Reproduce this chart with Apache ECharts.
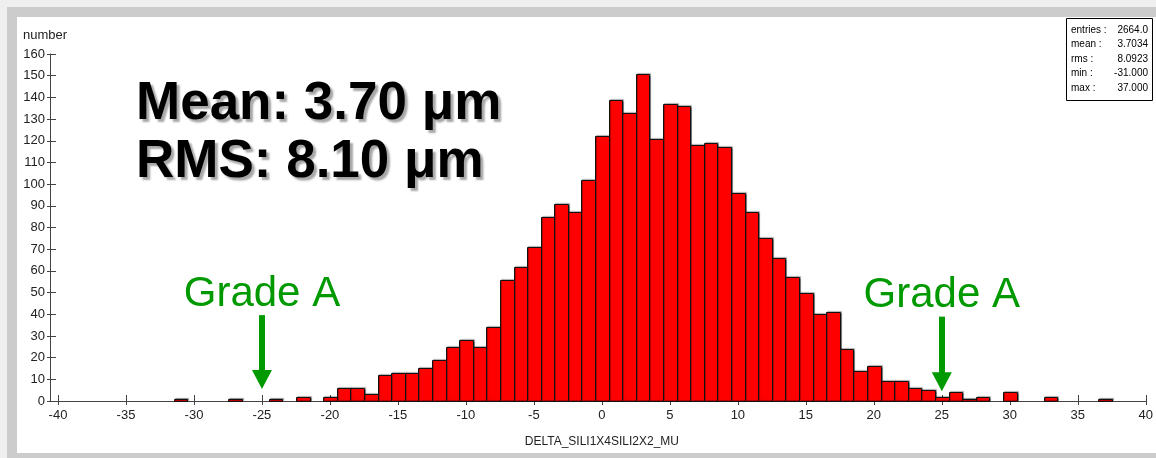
<!DOCTYPE html>
<html>
<head>
<meta charset="utf-8">
<script src="https://cdn.jsdelivr.net/npm/echarts@6/dist/echarts.min.js"></script>
<style>
  html, body { margin: 0; padding: 0; background: #efefef; }
  #outer { position: absolute; left: 7px; top: 7px; width: 1200px; height: 460px; background: #cccccc; }
  #panel { position: absolute; left: 17px; top: 17px; width: 1200px; height: 436px; background: #ffffff; }
  #chart { position: absolute; left: 0; top: 0; width: 1156px; height: 458px; }
</style>
</head>
<body>
<div id="outer"></div>
<div id="panel"></div>
<div id="chart"></div>
<script>
// Histogram bins (bin centres, width 1) and counts
const binCenters = [-31, -27, -24, -22, -20, -19, -18, -17, -16, -15, -14, -13, -12, -11, -10, -9, -8, -7, -6, -5, -4, -3, -2, -1,
  0, 1, 2, 3, 4, 5, 6, 7, 8, 9, 10, 11, 12, 13, 14, 15, 16, 17, 18, 19, 20, 21, 22, 23, 24, 25, 26, 27, 28, 30, 33, 37];
const counts = [1, 1, 1, 2, 2, 6, 6, 3, 12, 13, 13, 15, 19, 25, 28, 25, 34, 56, 62, 71, 85, 91, 87, 102,
  122, 139, 133, 151, 121, 137, 136, 118, 119, 117, 96, 87, 75, 66, 57, 50, 40, 41, 24, 14, 16, 9, 9, 6, 5, 2, 4, 1, 2, 4, 2, 1];

const xTicks = { min: -40, max: 40, interval: 5 };
const yTicks = { min: 0, max: 160, interval: 10 };

const statLabels = ['entries :', 'mean :', 'rms :', 'min :', 'max :'];
const statValues = ['2664.0', '3.7034', '8.0923', '-31.000', '37.000'];

const gradeArrows = [
  { x: -25, top: 39.6, end: 9.9 },
  { x: 25, top: 38.9, end: 8.9 }
];

const chart = echarts.init(document.getElementById('chart'), null, { renderer: 'canvas' });
const FONT = 'Liberation Sans, Arial, sans-serif';

const axisLineStyle = { color: '#444', width: 1 };

const statsGraphics = [];
statsGraphics.push({
  type: 'rect', left: 1066, top: 18, shape: { width: 86, height: 82 },
  style: { fill: '#fff', stroke: '#000', lineWidth: 1 }, z: 10
});
statLabels.forEach((l, i) => {
  const y = 30 + i * 14.5;
  statsGraphics.push({ type: 'text', x: 1071, y: y, z: 11,
    style: { text: l, fill: '#000', font: '10px ' + FONT, textAlign: 'left', textVerticalAlign: 'middle' } });
  statsGraphics.push({ type: 'text', x: 1148, y: y, z: 11,
    style: { text: statValues[i], fill: '#000', font: '10px ' + FONT, textAlign: 'right', textVerticalAlign: 'middle' } });
});

const bigTextStyle = {
  fill: '#000', font: 'bold 53px ' + FONT, textAlign: 'left', textVerticalAlign: 'middle',
  textShadowColor: 'rgba(0,0,0,0.35)', textShadowOffsetX: 3, textShadowOffsetY: 3, textShadowBlur: 2
};

const option = {
  animation: false,
  backgroundColor: 'transparent',
  textStyle: { fontFamily: FONT },
  grid: { left: 58, right: 7, top: 54, bottom: 57, containLabel: false },
  xAxis: [
    {
      type: 'value', min: xTicks.min, max: xTicks.max, interval: xTicks.interval, position: 'bottom',
      name: 'DELTA_SILI1X4SILI2X2_MU', nameLocation: 'middle', nameGap: 35,
      nameTextStyle: { color: '#222', fontSize: 12, fontFamily: FONT },
      axisLine: { show: true, onZero: false, lineStyle: axisLineStyle },
      axisTick: { show: true, inside: false, length: 4, lineStyle: axisLineStyle },
      axisLabel: { color: '#222', fontSize: 13, margin: 8, fontFamily: FONT },
      splitLine: { show: false }
    },
    {
      type: 'value', min: xTicks.min, max: xTicks.max, interval: xTicks.interval, position: 'bottom',
      axisLine: { show: false, onZero: false },
      axisTick: { show: true, inside: true, length: 6, lineStyle: axisLineStyle },
      axisLabel: { show: false },
      splitLine: { show: false }
    }
  ],
  yAxis: [
    {
      type: 'value', min: yTicks.min, max: yTicks.max, interval: yTicks.interval, position: 'left', offset: 8,
      name: 'number', nameLocation: 'end', nameGap: 12,
      nameTextStyle: { color: '#222', fontSize: 13, fontFamily: FONT, align: 'left', padding: [0, 0, 0, -27] },
      axisLine: { show: true, onZero: false, lineStyle: axisLineStyle },
      axisTick: { show: true, inside: false, length: 3, lineStyle: axisLineStyle },
      axisLabel: { color: '#222', fontSize: 13, margin: 5, fontFamily: FONT },
      splitLine: { show: false }
    },
    {
      type: 'value', min: yTicks.min, max: yTicks.max, interval: yTicks.interval, position: 'left', offset: 8,
      axisLine: { show: false, onZero: false },
      axisTick: { show: true, inside: true, length: 6, lineStyle: axisLineStyle },
      axisLabel: { show: false },
      splitLine: { show: false }
    }
  ],
  graphic: [
    { type: 'line', shape: { x1: 50, y1: 401.5, x2: 58, y2: 401.5 }, style: { stroke: '#444', lineWidth: 1 }, z: 5 },
    { type: 'text', x: 136, y: 104, z: 10, style: Object.assign({ text: 'Mean: 3.70 μm' }, bigTextStyle) },
    { type: 'text', x: 136, y: 162, z: 10, style: Object.assign({ text: 'RMS: 8.10 μm' }, bigTextStyle) }
  ].concat(statsGraphics),
  series: [
    {
      type: 'custom',
      xAxisIndex: 0, yAxisIndex: 0,
      data: binCenters.map((c, i) => [c, counts[i]]),
      encode: { x: 0, y: 1 },
      renderItem: function (params, api) {
        const x = api.value(0), y = api.value(1);
        const p0 = api.coord([x - 0.5, y]);
        const p1 = api.coord([x + 0.5, 0]);
        return {
          type: 'rect',
          shape: { x: Math.round(p0[0]) + 0.5, y: Math.round(p0[1]) + 0.5,
                   width: Math.round(p1[0]) - Math.round(p0[0]), height: Math.round(p1[1]) - Math.round(p0[1]) },
          style: { fill: '#ff0000', stroke: '#111', lineWidth: 1,
                   shadowColor: 'rgba(0,0,0,0.35)', shadowOffsetX: 1, shadowOffsetY: -1, shadowBlur: 1 }
        };
      },
      z: 3
    },
    {
      type: 'line', xAxisIndex: 0, yAxisIndex: 0, data: [], silent: true, z: 6,
      markLine: {
        silent: true, animation: false,
        lineStyle: { color: '#009900', width: 6, type: 'solid' },
        symbol: ['none', 'triangle'], symbolSize: [20, 19],
        label: { show: true, position: 'start', formatter: 'Grade A', color: '#009900', fontSize: 42, fontFamily: FONT, distance: 0 },
        data: gradeArrows.map(a => [
          { coord: [a.x, a.top], symbol: 'none' },
          { coord: [a.x, a.end], symbol: 'triangle', symbolSize: [20, 19] }
        ])
      }
    }
  ]
};
chart.setOption(option);
</script>
</body>
</html>
